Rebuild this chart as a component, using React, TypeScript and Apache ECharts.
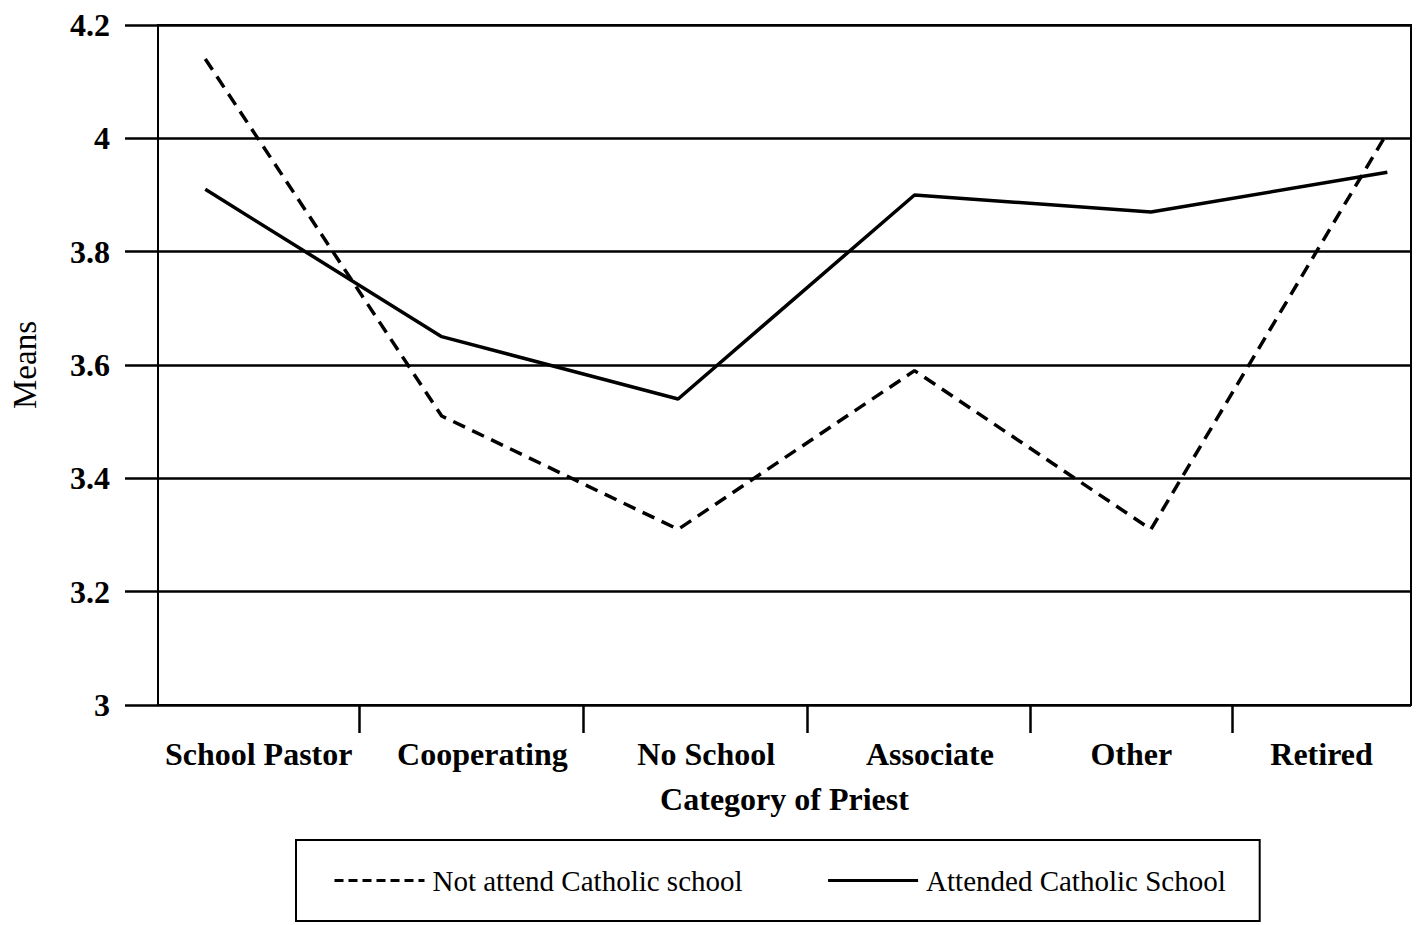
import React, { useEffect, useRef } from "react";
import * as echarts from "echarts";

// ---- data ----
const categories = ["School Pastor", "Cooperating", "No School", "Associate", "Other", "Retired"];
const notAttend = [4.14, 3.51, 3.31, 3.59, 3.31, 4.01];
const attended = [3.91, 3.65, 3.54, 3.9, 3.87, 3.94];
const seriesNames = ["Not attend Catholic school", "Attended Catholic School"];
const yMin = 3;
const yMax = 4.2;
const yStep = 0.2;

// ---- layout (fine slot axis used to place category labels / ticks like the original) ----
const SLOT_COUNT = 113;
const labelSlots = [9, 29, 49, 69, 87, 104];
const tickSlots = [18, 38, 58, 78, 96];

const FONT = "'Liberation Serif', 'Times New Roman', serif";

export default function App() {
  const ref = useRef<HTMLDivElement>(null);

  useEffect(() => {
    if (!ref.current) return;
    const chart = echarts.init(ref.current, null, { renderer: "svg" });
    const slotData = Array.from({ length: SLOT_COUNT }, (_, i) => "s" + i);

    const option: any = {
      animation: false,
      backgroundColor: "#fff",
      textStyle: { fontFamily: FONT, color: "#000" },
      grid: {
        left: 155,
        top: 25,
        width: 1256,
        height: 680,
        show: true,
        borderColor: "#000",
        borderWidth: 2,
        backgroundColor: "transparent",
      },
      xAxis: [
        {
          type: "value",
          min: -0.2,
          max: 5.1,
          show: false,
          splitLine: { show: false },
        },
        {
          type: "category",
          data: slotData,
          boundaryGap: false,
          position: "bottom",
          axisLine: { show: true, onZero: false, lineStyle: { color: "#000", width: 2 } },
          axisTick: {
            show: true,
            interval: (idx: number) => tickSlots.includes(idx),
            length: 28,
            lineStyle: { color: "#000", width: 2.5 },
          },
          axisLabel: {
            interval: 0,
            margin: 33,
            fontFamily: FONT,
            fontWeight: "bold",
            fontSize: 32,
            color: "#000",
            formatter: (_v: string, idx: number) => {
              const k = labelSlots.indexOf(idx);
              return k >= 0 ? categories[k] : "";
            },
          },
          splitLine: { show: false },
          name: "Category of Priest",
          nameLocation: "middle",
          nameGap: 78,
          nameTextStyle: { fontFamily: FONT, fontWeight: "bold", fontSize: 32, color: "#000" },
        },
      ],
      yAxis: {
        type: "value",
        min: yMin,
        max: yMax,
        interval: yStep,
        position: "left",
        axisLine: { show: true, onZero: false, lineStyle: { color: "#000", width: 2 } },
        axisTick: { show: true, length: 33, lineStyle: { color: "#000", width: 2.5 } },
        axisLabel: {
          margin: 48,
          fontFamily: FONT,
          fontWeight: "bold",
          fontSize: 32,
          color: "#000",
        },
        splitLine: { show: true, lineStyle: { color: "#000", width: 2.5 } },
        name: "Means",
        nameLocation: "middle",
        nameGap: 117,
        nameTextStyle: { fontFamily: FONT, fontSize: 33, color: "#000" },
      },
      legend: {
        left: 296,
        top: 840,
        orient: "horizontal",
        data: [
          { name: seriesNames[0], lineStyle: { type: [9, 5], width: 3 } },
          { name: seriesNames[1], lineStyle: { width: 3 } },
        ],
        itemWidth: 90,
        itemHeight: 30,
        itemGap: 84,
        padding: [26, 34, 26, 37],
        borderColor: "#000",
        borderWidth: 2,
        borderRadius: 0,
        itemStyle: { color: "transparent", borderWidth: 0, opacity: 0 },
        textStyle: { fontFamily: FONT, fontSize: 29, color: "#000", padding: [0, 0, 0, 3] },
      },
      series: [
        {
          type: "line",
          name: seriesNames[0],
          xAxisIndex: 0,
          data: notAttend.map((v, i) => [i, v]),
          symbol: "none",
          color: "#000",
          lineStyle: { color: "#000", width: 3.5, type: [13, 8] },
        },
        {
          type: "line",
          name: seriesNames[1],
          xAxisIndex: 0,
          data: attended.map((v, i) => [i, v]),
          symbol: "none",
          color: "#000",
          lineStyle: { color: "#000", width: 3.5, type: "solid" },
        },
      ],
    };

    chart.setOption(option);
    return () => chart.dispose();
  }, []);

  return (
    <div
      ref={ref}
      style={{ position: "absolute", left: 0, top: 0, width: 1421, height: 925, background: "#fff" }}
    />
  );
}
